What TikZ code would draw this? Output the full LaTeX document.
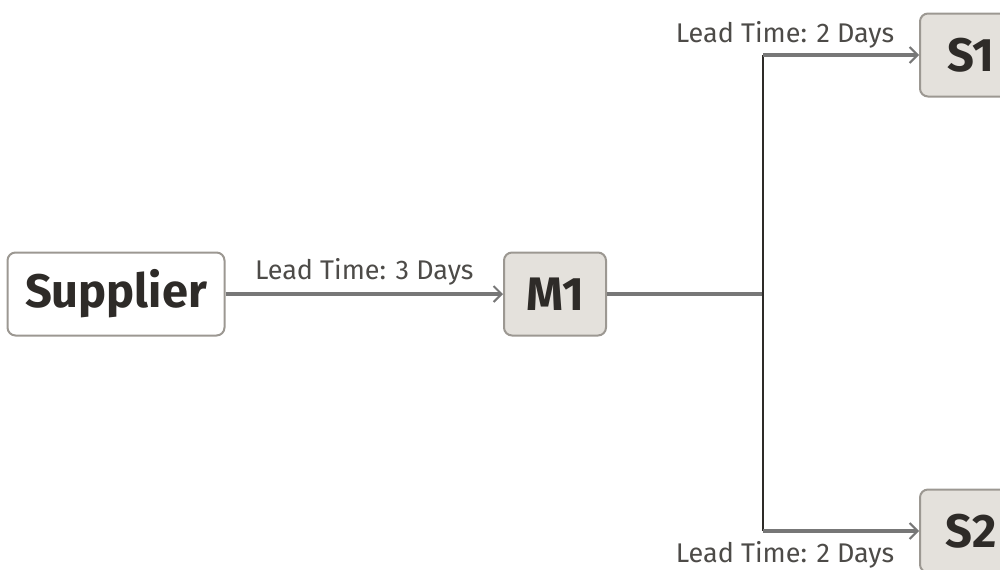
\documentclass[tikz,border=0pt]{standalone}
\usepackage{fontspec}
\setmainfont{Fira Sans}
\usetikzlibrary{arrows.meta}
\definecolor{boxline}{HTML}{9C9892}
\definecolor{boxfill}{HTML}{E4E1DC}
\definecolor{linkgray}{HTML}{777777}
\definecolor{ink}{HTML}{2E2B28}
\begin{document}
\begin{tikzpicture}[x=0.5pt,y=-0.5pt,
	site/.style={draw=boxline,line width=1pt,rounded corners=4pt,minimum height=41.5pt,inner sep=0pt,font=\fontsize{23.5}{26}\selectfont\bfseries,text=ink},
	plant/.style={site,fill=boxfill,minimum width=51pt},
	link/.style={draw=linkgray,line width=1.75pt,-{Straight Barb[length=4pt,width=8pt,line width=1pt]}},
	lbl/.style={font=\fontsize{13.5}{15}\selectfont,text=ink!85}]
	\useasboundingbox (0,0) rectangle (1000,569);
	
	\node[site,fill=white,minimum width=108.5pt] (supplier) at (116,294) {Supplier};
	\node[plant] (m1) at (555,294) {M1};
	\foreach \nm/\lab/\yy in {s1/S1/55,s2/S2/531}
	\node[plant] (\nm) at (971,\yy) {\lab};
	
	\coordinate (fork) at (763,294);
	\coordinate (fork1) at (763,55);
	\coordinate (fork2) at (763,531);
	
	\draw[link] (supplier) -- (m1) node[midway,above=0pt,lbl] (lt0) {Lead Time: 3 Days};
	\draw[draw=linkgray,line width=1.75pt] (m1) -- (fork);
	\draw[ink,line width=1pt] (fork1) -- (fork2);
	\foreach \i in {1,2}
	\draw[link] (fork\i) -- (s\i);
	\node[lbl,anchor=base] (lt1) at (785,42) {Lead Time: 2 Days};
	\node[lbl,anchor=base] (lt2) at (785,562) {Lead Time: 2 Days};
\end{tikzpicture}
\end{document}
